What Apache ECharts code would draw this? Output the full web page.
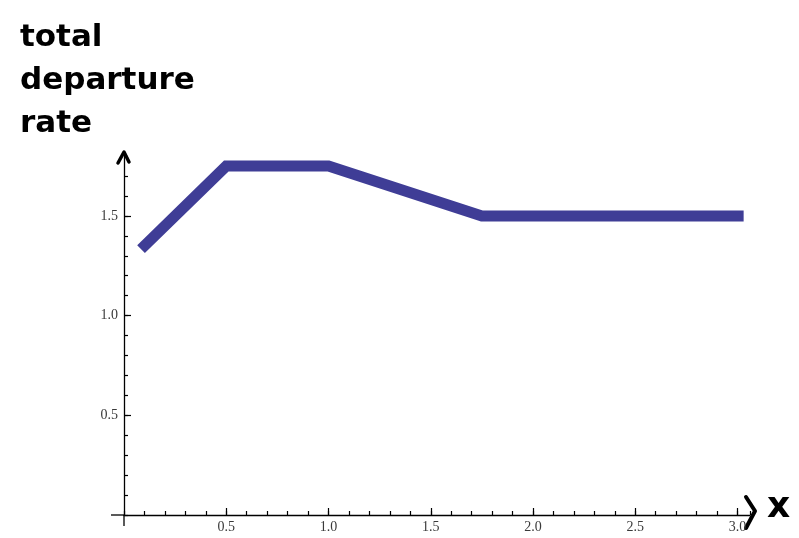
<!DOCTYPE html>
<html>
<head>
<meta charset="utf-8">
<script src="https://cdn.jsdelivr.net/npm/echarts@6/dist/echarts.min.js"></script>
<style>
  html, body { margin: 0; padding: 0; background: #fff; }
  #chart { width: 799px; height: 538px; }
</style>
</head>
<body>
<div id="chart"></div>
<script>
// Piecewise-linear total departure rate as a function of x
const xValues = [1 / 12, 0.5, 1.0, 1.75, 3.03];
const rateValues = [4 / 3, 1.75, 1.75, 1.5, 1.5];

// Tick labels
const xTickLabels = ['0.5', '1.0', '1.5', '2.0', '2.5', '3.0'];
const yTickLabels = ['0.5', '1.0', '1.5'];

// Axis extents
const xLabelMax = 3.0, yLabelMax = 1.5;   // range covered by labelled ticks
const xLineMax = 3.06, yLineMax = 1.8;    // range covered by the drawn axis lines

// Plot geometry (pixels)
const originX = 124, originY = 515;
const pxPerX = 204.5, pxPerY = 199.4;

const chart = echarts.init(document.getElementById('chart'), null, { renderer: 'canvas' });

const labelFont = { fontFamily: 'Liberation Serif', fontSize: 14, color: '#3a3a3a' };

const option = {
  animation: false,
  backgroundColor: '#ffffff',
  title: {
    text: 'total\ndeparture\nrate',
    left: 15,
    top: 11,
    textStyle: {
      fontFamily: 'DejaVu Sans',
      fontWeight: 'bold',
      fontSize: 31,
      lineHeight: 43,
      color: '#000'
    }
  },
  grid: [
    // outer grid: axis lines and minor ticks
    { left: originX, top: originY - yLineMax * pxPerY, width: xLineMax * pxPerX, height: yLineMax * pxPerY, containLabel: false },
    // inner grid: labelled major ticks
    { left: originX, top: originY - yLabelMax * pxPerY, width: xLabelMax * pxPerX, height: yLabelMax * pxPerY, containLabel: false }
  ],
  xAxis: [
    {
      gridIndex: 0, type: 'value', min: 0, max: xLineMax, interval: 0.1,
      axisLine: { show: true, onZero: false, lineStyle: { color: '#000', width: 1.3 } },
      axisTick: { show: true, inside: true, length: 4, lineStyle: { color: '#000', width: 1.2 } },
      axisLabel: { show: false },
      splitLine: { show: false }
    },
    {
      gridIndex: 1, type: 'value', min: 0, max: xLabelMax, interval: 0.5,
      axisLine: { show: false, onZero: false },
      axisTick: { show: true, inside: true, length: 7, lineStyle: { color: '#000', width: 1.2 } },
      axisLabel: {
        show: true, margin: 5, showMinLabel: false,
        formatter: v => { const i = Math.round(v / 0.5) - 1; return xTickLabels[i] || ''; },
        ...labelFont
      },
      splitLine: { show: false }
    }
  ],
  yAxis: [
    {
      gridIndex: 0, type: 'value', min: 0, max: yLineMax, interval: 0.1,
      axisLine: { show: true, onZero: false, lineStyle: { color: '#000', width: 1.3 } },
      axisTick: { show: true, inside: true, length: 4, lineStyle: { color: '#000', width: 1.2 } },
      axisLabel: { show: false },
      splitLine: { show: false }
    },
    {
      gridIndex: 1, type: 'value', min: 0, max: yLabelMax, interval: 0.5,
      axisLine: { show: false, onZero: false },
      axisTick: { show: true, inside: true, length: 7, lineStyle: { color: '#000', width: 1.2 } },
      axisLabel: {
        show: true, margin: 6, showMinLabel: false,
        formatter: v => { const i = Math.round(v / 0.5) - 1; return yTickLabels[i] || ''; },
        ...labelFont
      },
      splitLine: { show: false }
    }
  ],
  series: [
    {
      type: 'line',
      xAxisIndex: 0,
      yAxisIndex: 0,
      data: xValues.map((x, i) => [x, rateValues[i]]),
      showSymbol: false,
      symbol: 'none',
      clip: false,
      lineStyle: { color: '#3f3d96', width: 11, cap: 'butt', join: 'miter' }
    }
  ],
  graphic: [
    // axis overhangs past the origin
    { type: 'line', shape: { x1: originX - 13, y1: originY, x2: originX, y2: originY }, style: { stroke: '#000', lineWidth: 1.3 } },
    { type: 'line', shape: { x1: originX, y1: originY, x2: originX, y2: originY + 11 }, style: { stroke: '#000', lineWidth: 1.3 } },
    // hand-drawn arrow heads
    { type: 'polyline', shape: { points: [[118, 163], [124, 152], [129, 162]] }, style: { stroke: '#000', lineWidth: 3.5, fill: null, lineCap: 'round', lineJoin: 'round' } },
    { type: 'polyline', shape: { points: [[746, 497], [755, 511], [746, 528]] }, style: { stroke: '#000', lineWidth: 4, fill: null, lineCap: 'round', lineJoin: 'round' } },
    // hand-written x label
    { type: 'text', left: 767, top: 490, style: { text: 'x', font: 'bold 36px "DejaVu Sans"', fill: '#000' } }
  ]
};

chart.setOption(option);
</script>
</body>
</html>
